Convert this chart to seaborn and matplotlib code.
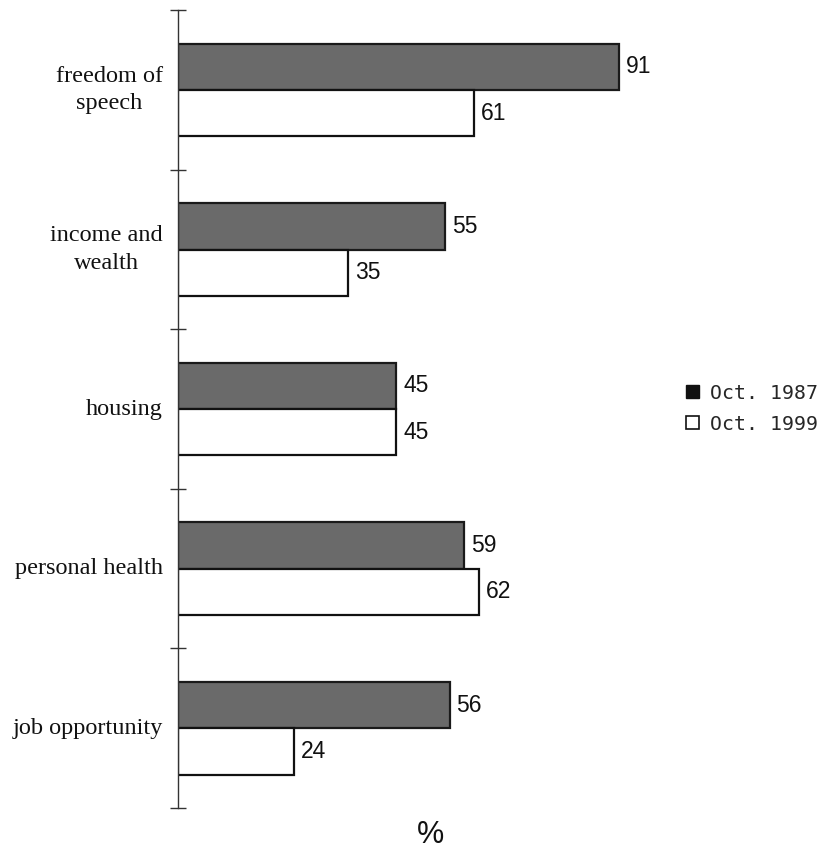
import matplotlib
matplotlib.use("Agg")
import matplotlib.pyplot as plt
import seaborn as sns
import pandas as pd
from matplotlib.patches import Patch

categories = ["freedom of\nspeech", "income and\nwealth", "housing", "personal health", "job opportunity"]
series_names = ["Oct. 1987", "Oct. 1999"]
values_1987 = [91, 55, 45, 59, 56]
values_1999 = [61, 35, 45, 62, 24]
axis_label = "%"

df = pd.DataFrame({
    "category": categories * 2,
    "value": values_1987 + values_1999,
    "series": [series_names[0]] * len(categories) + [series_names[1]] * len(categories),
})

sns.set_style("white")
fig = plt.figure(figsize=(8.24, 8.5), dpi=100)
ax = fig.add_axes([0.216, 0.0494, 0.612, 0.9386])

face_colors = {series_names[0]: "#6a6a6a", series_names[1]: "#ffffff"}
edge_colors = {series_names[0]: "#1a1a1a", series_names[1]: "#111111"}

sns.barplot(data=df, y="category", x="value", hue="series", orient="h",
            palette=face_colors, width=0.58, dodge=True, ax=ax, legend=False,
            saturation=1)

for container, name in zip(ax.containers, series_names):
    for bar in container:
        bar.set_edgecolor(edge_colors[name])
        bar.set_linewidth(1.6)
    ax.bar_label(container, padding=5, fontsize=16.5,
                 family="Liberation Sans", color="#111111")

ax.set_xlim(0, 104)
ax.set_ylim(len(categories) - 0.5, -0.5)

for s in ["top", "right", "bottom"]:
    ax.spines[s].set_visible(False)
ax.spines["left"].set_color("#333333")
ax.spines["left"].set_linewidth(1.0)

ax.set_yticks([i - 0.5 for i in range(len(categories) + 1)])
ax.set_yticklabels([])
ax.tick_params(axis="y", direction="inout", length=12, width=1.0, color="#333333", left=True)
ax.set_xticks([])
ax.set_ylabel("")
ax.set_xlabel("")

label_x = -(178 - 163) / 504
for i, c in enumerate(categories):
    ax.text(label_x, i, c, transform=ax.get_yaxis_transform(), ha="right",
            va="center", fontsize=17.5, family="Liberation Serif",
            multialignment="center", linespacing=1.4, color="#111111")

ax.text(0.5, -0.015, axis_label, transform=ax.transAxes, ha="center", va="top",
        fontsize=22, family="Liberation Sans", color="#111111")

handles = [Patch(facecolor="#111111", edgecolor="#111111"),
           Patch(facecolor="white", edgecolor="#111111", linewidth=1.2)]
fig.legend(handles, series_names, loc="center left", bbox_to_anchor=(0.833, 0.519),
           frameon=False, prop={"family": "DejaVu Sans Mono", "size": 14.3},
           handlelength=0.62, handleheight=0.62, handletextpad=0.55,
           labelspacing=0.6, borderpad=0, borderaxespad=0)

fig.savefig("out.png", dpi=100)
